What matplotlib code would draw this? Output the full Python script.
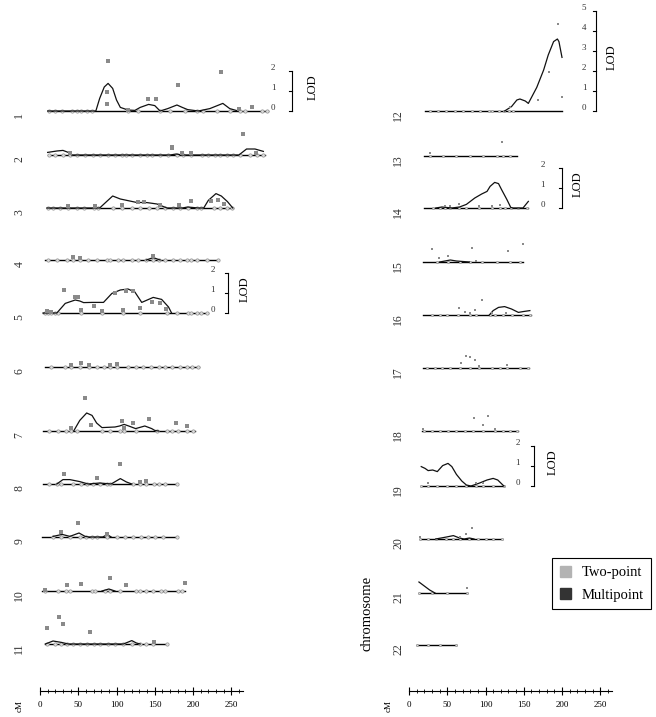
import matplotlib
matplotlib.use("Agg")
import matplotlib.pyplot as plt
from matplotlib.patches import Patch
from matplotlib.ticker import FixedLocator

plt.rcParams['font.family'] = ['Liberation Serif', 'DejaVu Serif']

# chromosome extent (cM)
spans = {1: (10, 298), 2: (10, 294), 3: (9, 252), 4: (7, 233), 5: (4, 219), 6: (6, 208),
         7: (4, 202), 8: (4, 179), 9: (3, 179), 10: (3, 190), 11: (7, 166),
         12: (21, 200), 13: (19, 141), 14: (19, 156), 15: (18, 149), 16: (18, 159),
         17: (18, 157), 18: (17, 143), 19: (16, 124), 20: (14, 121), 21: (13, 76), 22: (10, 61)}

# marker positions (cM)
markers = {
    1: [12, 20, 29, 42, 48, 54, 61, 68, 115, 128, 157, 170, 190, 205, 213, 231, 248, 261, 268, 290, 297],
    2: [12, 20, 30, 39, 48, 59, 69, 78, 89, 98, 107, 113, 120, 131, 140, 146, 157, 167, 179, 187, 197,
        212, 220, 229, 235, 244, 252, 261, 274, 284, 292],
    3: [10, 17, 26, 37, 48, 57, 70, 76, 96, 107, 120, 131, 142, 153, 163, 174, 183, 194, 205, 211,
        227, 235, 244, 251],
    4: [10, 22, 35, 43, 52, 63, 74, 87, 91, 102, 109, 120, 128, 139, 148, 155, 163, 174, 183, 192,
        198, 205, 218, 233],
    5: [7, 11, 15, 20, 24, 54, 81, 109, 131, 166, 179, 194, 198, 205, 211, 218],
    6: [15, 33, 41, 52, 64, 74, 84, 91, 101, 115, 126, 134, 145, 155, 164, 173, 183, 192, 199, 207],
    7: [12, 24, 34, 41, 49, 81, 91, 104, 110, 126, 153, 166, 173, 181, 192, 200],
    8: [12, 22, 28, 43, 54, 62, 69, 78, 87, 91, 121, 131, 138, 149, 156, 163, 179],
    9: [17, 28, 39, 52, 60, 68, 75, 87, 100, 111, 122, 132, 141, 150, 161, 179],
    10: [7, 24, 34, 39, 68, 72, 85, 91, 105, 126, 131, 139, 148, 158, 163, 181, 186],
    11: [9, 20, 28, 35, 43, 52, 61, 70, 78, 89, 98, 109, 120, 131, 139, 148, 166],
    12: [27, 38, 49, 60, 71, 82, 93, 104, 108, 117, 124, 131, 136],
    13: [28, 45, 62, 80, 97, 115, 123, 132],
    14: [32, 41, 47, 54, 66, 75, 92, 108, 119, 125, 133, 143, 154],
    15: [36, 51, 67, 80, 95, 115, 132, 145],
    16: [30, 41, 50, 64, 80, 88, 106, 112, 123, 134, 149, 158],
    17: [23, 34, 43, 54, 67, 80, 91, 108, 119, 128, 145, 156],
    18: [19, 30, 41, 51, 62, 73, 84, 97, 112, 123, 132, 141],
    19: [16, 25, 37, 50, 62, 75, 88, 97, 110, 124],
    20: [14, 25, 35, 49, 58, 67, 79, 90, 100, 110, 121],
    21: [13, 30, 50, 76],
    22: [10, 25, 40, 61],
}

# two-point LOD scores (cM, LOD)
two_point = {
    1: [(89, 2.5), (88, 0.97), (87, 0.35), (115, 0.05), (141, 0.62), (152, 0.58), (181, 1.28),
        (237, 1.95), (260, 0.12), (277, 0.22)],
    2: [(39, 0.1), (172, 0.33), (173, 0.4), (185, 0.08), (197, 0.1), (266, 1.03), (283, 0.08)],
    3: [(37, 0.1), (72, 0.1), (107, 0.15), (128, 0.32), (136, 0.32), (157, 0.15), (182, 0.15),
        (198, 0.37), (224, 0.35), (233, 0.42), (241, 0.2)],
    4: [(43, 0.17), (52, 0.1), (148, 0.22)],
    5: [(9, 0.1), (15, 0.05), (31, 1.15), (46, 0.82), (50, 0.82), (54, 0.15), (70, 0.35), (81, 0.1),
        (98, 0.98), (109, 0.15), (112, 1.1), (121, 1.1), (131, 0.23), (146, 0.53), (157, 0.5), (165, 0.2)],
    6: [(41, 0.08), (53, 0.18), (64, 0.1), (91, 0.12), (101, 0.15)],
    7: [(41, 0.15), (59, 1.65), (67, 0.28), (107, 0.48), (110, 0.15), (122, 0.4), (142, 0.62),
        (178, 0.4), (192, 0.23)],
    8: [(32, 0.48), (75, 0.3), (105, 1.02), (131, 0.12), (138, 0.15)],
    9: [(27, 0.25), (50, 0.72), (88, 0.17)],
    10: [(7, 0.07), (35, 0.32), (53, 0.37), (91, 0.67), (112, 0.3), (190, 0.42)],
    11: [(9, 0.82), (25, 1.37), (30, 0.98), (65, 0.62), (149, 0.1)],
    12: [(132, 0.18), (169, 0.55), (183, 1.97), (195, 4.35), (200, 0.72)],
    13: [(28, 0.15), (122, 0.7)],
    14: [(47, 0.12), (53, 0.12), (66, 0.2), (92, 0.12), (108, 0.12), (119, 0.15)],
    15: [(30, 0.67), (39, 0.22), (51, 0.28), (83, 0.72), (87, 0.05), (129, 0.55), (149, 0.92)],
    16: [(65, 0.33), (73, 0.17), (80, 0.08), (86, 0.23), (95, 0.75), (108, 0.08), (127, 0.1)],
    17: [(68, 0.25), (75, 0.58), (80, 0.53), (86, 0.42), (91, 0.12), (128, 0.15)],
    18: [(18, 0.1), (85, 0.67), (97, 0.32), (103, 0.75), (113, 0.1)],
    19: [(25, 0.17), (88, 0.13), (97, 0.17)],
    20: [(15, 0.1), (67, 0.08), (75, 0.27), (83, 0.55)],
    21: [(76, 0.25)],
    22: [],
}

# multipoint LOD curves (cM, LOD)
multipoint = {
    1: [(10, 0), (73, 0), (78, 0.63), (84, 1.2), (89, 1.38), (95, 1.13), (100, 0.55), (105, 0.18),
        (115, 0.05), (124, 0.03), (131, 0.18), (142, 0.33), (150, 0.27), (157, 0), (167, 0.12),
        (179, 0.3), (186, 0.18), (193, 0.07), (207, 0), (222, 0.12), (239, 0.38), (248, 0.12), (259, 0)],
    2: [(10, 0.13), (22, 0.2), (30, 0.23), (39, 0.1), (41, 0), (170, 0), (178, 0.05), (186, 0),
        (260, 0), (270, 0.3), (281, 0.3), (292, 0.18)],
    3: [(9, 0), (78, 0), (87, 0.32), (95, 0.6), (105, 0.45), (126, 0.28), (140, 0.27), (153, 0.2),
        (166, 0), (186, 0), (193, 0.05), (207, 0), (214, 0), (220, 0.38), (230, 0.72), (237, 0.6),
        (245, 0.32), (252, 0)],
    4: [(139, 0), (148, 0.12), (157, 0)],
    5: [(4, 0), (22, 0), (33, 0.48), (46, 0.65), (52, 0.6), (57, 0.52), (68, 0.53), (83, 0.53),
        (94, 0.98), (105, 1.15), (115, 1.2), (124, 1.05), (133, 0.53), (148, 0.78), (159, 0.68),
        (168, 0.3), (172, 0)],
    6: [],
    7: [(44, 0), (52, 0.53), (61, 0.9), (68, 0.78), (74, 0.4), (81, 0.17), (98, 0.2), (104, 0.25),
        (110, 0.33), (116, 0.25), (125, 0.12), (137, 0.25), (146, 0.12), (150, 0.03), (155, 0)],
    8: [(22, 0), (30, 0.22), (39, 0.22), (52, 0.12), (63, 0), (78, 0.05), (93, 0), (105, 0.27),
        (113, 0.1), (120, 0)],
    9: [(17, 0.03), (29, 0.13), (39, 0.03), (51, 0.2), (59, 0.03), (64, 0), (82, 0), (88, 0.12), (93, 0)],
    10: [(81, 0), (90, 0.1), (98, 0)],
    11: [(7, 0), (17, 0.15), (28, 0.08), (37, 0), (109, 0), (120, 0.17), (126, 0.05), (131, 0)],
    12: [(125, 0), (134, 0.22), (141, 0.55), (145, 0.6), (152, 0.5), (156, 0.38), (167, 1.18),
         (176, 2.05), (182, 2.8), (189, 3.47), (194, 3.6), (196, 3.47), (200, 2.68)],
    13: [],
    14: [(35, 0), (43, 0.05), (56, 0), (66, 0.05), (75, 0.18), (86, 0.5), (95, 0.7), (102, 0.83),
         (106, 1.08), (112, 1.28), (117, 1.22), (121, 0.92), (128, 0.42), (133, 0.03), (136, 0),
         (149, 0), (156, 0.33)],
    15: [(40, 0), (54, 0.1), (62, 0.05), (79, 0)],
    16: [(105, 0), (110, 0.22), (117, 0.38), (125, 0.42), (134, 0.3), (143, 0.13), (149, 0.17), (158, 0.22)],
    17: [],
    18: [],
    19: [(16, 0.97), (21, 0.88), (25, 0.77), (31, 0.8), (37, 0.72), (44, 1.02), (51, 1.13), (56, 0.97),
         (62, 0.58), (69, 0.25), (75, 0.05), (81, 0), (91, 0.13), (102, 0.3), (110, 0.38), (116, 0.3),
         (124, 0)],
    20: [(35, 0), (49, 0.1), (58, 0.17), (66, 0.05), (72, 0), (79, 0.05), (85, 0)],
    21: [(13, 0.55), (20, 0.35), (27, 0.15), (34, 0)],
    22: [],
}

# LOD scale bars: chromosome -> (bar cM, max LOD, label cM, title cM)
lod_scales = {1: (329, 2, 305, 356), 5: (246, 2, 226, 268), 12: (244, 5, 229, 265),
              14: (200, 2, 175, 221), 19: (163, 2, 142, 188)}

cm_ticks = [0, 50, 100, 150, 200, 250]
cm_minor = list(range(0, 261, 10))

# layout (pixels)
W, H = 656, 717
PX_CM = 0.765
PX_LOD = 20
col_left = {'L': 40, 'R': 409}
baseline = {1: 111, 2: 155, 3: 208, 4: 260, 5: 313, 6: 367, 7: 431, 8: 484, 9: 537, 10: 591, 11: 644,
            12: 111, 13: 156, 14: 208, 15: 262, 16: 315, 17: 368, 18: 431, 19: 486, 20: 539, 21: 593, 22: 645}
XMAX = 300
YLO, YHI = -1, 6

fig = plt.figure(figsize=(W / 100, H / 100), dpi=100)

for c in range(1, 23):
    side = 'L' if c <= 11 else 'R'
    left = col_left[side]
    b = baseline[c]
    bottom_px = b - YLO * PX_LOD
    ax = fig.add_axes([left / W, 1 - bottom_px / H, XMAX * PX_CM / W, (YHI - YLO) * PX_LOD / H])
    ax.set_xlim(0, XMAX)
    ax.set_ylim(YLO, YHI)
    ax.axis('off')

    s, e = spans[c]
    ax.plot([s, e], [0, 0], color='black', lw=1.0, zorder=2)
    ms = 2.4 if side == 'L' else 1.6
    ax.plot(markers[c], [0] * len(markers[c]), 'o', ms=ms, mfc='#dcdcdc', mec='#909090', mew=0.5, zorder=3)

    if multipoint[c]:
        mx = [p[0] for p in multipoint[c]]
        my = [p[1] for p in multipoint[c]]
        ax.plot(mx, my, color='#111111', lw=0.9, zorder=4)

    if two_point[c]:
        tx = [p[0] for p in two_point[c]]
        ty = [p[1] for p in two_point[c]]
        sq = 2.5 if side == 'L' else 1.6
        ax.plot(tx, ty, 's', ms=sq, color='#8a8a8a', mew=0, zorder=5)

    lab_x = -27 if side == 'L' else -14
    ax.text(lab_x, -0.2, str(c), rotation=90, ha='center', va='center', fontsize=8.5, color='#333333')

    if c in lod_scales:
        bx, top, lx, tx_ = lod_scales[c]
        tick = 4
        ax.plot([bx, bx], [0, top], color='black', lw=0.8, clip_on=False)
        for v in range(top + 1):
            ax.plot([bx - tick, bx], [v, v], color='black', lw=0.8, clip_on=False)
            ax.text(lx, v + 0.15, str(v), ha='center', va='center', fontsize=6.5, color='#333333')
        ax.text(tx_, top / 2 + 0.2, 'LOD', rotation=90, ha='center', va='center', fontsize=9)

# cM scale bars
for side in ['L', 'R']:
    left = col_left[side]
    sax = fig.add_axes([left / W, 1 - 691 / H, XMAX * PX_CM / W, 0.01])
    sax.set_xlim(0, XMAX)
    sax.patch.set_visible(False)
    for sp in ['top', 'left', 'right']:
        sax.spines[sp].set_visible(False)
    sax.spines['bottom'].set_bounds(0, 265)
    sax.spines['bottom'].set_linewidth(0.8)
    sax.set_yticks([])
    sax.set_xticks(cm_ticks)
    sax.xaxis.set_minor_locator(FixedLocator(cm_minor))
    sax.tick_params(axis='x', which='major', direction='inout', length=6, width=0.8, labelsize=6.5, pad=4)
    sax.tick_params(axis='x', which='minor', direction='inout', length=3, width=0.6)
    fig.text((left - 20) / W, 1 - 706 / H, 'cM', rotation=90, ha='center', va='center', fontsize=6.5)

fig.text(367 / W, 1 - 613 / H, 'chromosome', rotation=90, ha='center', va='center', fontsize=10.5)

handles = [Patch(facecolor='#b3b3b3', edgecolor='#b3b3b3'), Patch(facecolor='#333333', edgecolor='#333333')]
leg = fig.legend(handles, ['Two-point', 'Multipoint'], loc='upper left', bbox_to_anchor=(545 / W, 1 - 551 / H),
                 frameon=True, fancybox=False, edgecolor='black', framealpha=1, fontsize=10.5,
                 handlelength=0.8, handleheight=0.8, handletextpad=0.7, labelspacing=0.6, borderpad=0.5)
leg.get_frame().set_linewidth(0.8)

fig.savefig('out.png', dpi=100)
